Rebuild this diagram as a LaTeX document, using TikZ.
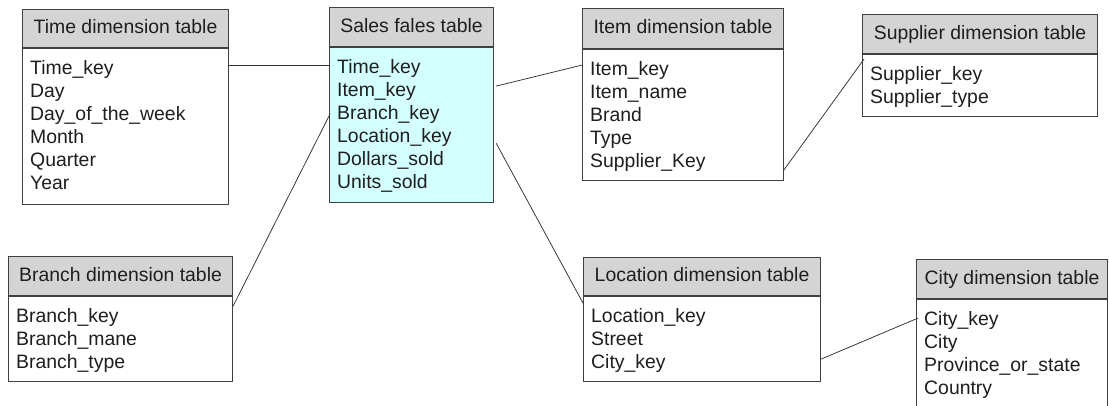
\documentclass[tikz,border=0pt]{standalone}
\usepackage{fontspec}
\setmainfont{Liberation Sans}
\usetikzlibrary{calc}

\definecolor{edge}{HTML}{404040}
\definecolor{hdrfill}{HTML}{D4D4D4}
\definecolor{factfill}{HTML}{D4FFFF}
\definecolor{ink}{HTML}{1E1E1E}
\definecolor{wire}{HTML}{303030}
\newcommand\tablefont{\fontsize{19.4}{23}\selectfont}

% #1 name, #2 left, #3 top, #4 width, #5 header height, #6 body height,
% #7 title, #8 body fill, #9 rows
\newcommand\dimtable[9]{%
  \node[hdr, minimum width=#4, minimum height=#5] (#1H) at (#2,#3) {#7};
  \node[tbody, fill=#8, minimum width=#4, minimum height=#6] (#1B) at (#1H.south west) {};
  \foreach \r [count=\k] in {#9} {
    \pgfmathsetmacro\dy{26+23*(\k-1)}
    \node[row] (#1-\k) at ($(#1B.north west)+(8,\dy)$) {\r};
  }%
}

\begin{document}
\begin{tikzpicture}[x=1pt,y=-1pt,
  hdr/.style={draw=edge, line width=1.1pt, fill=hdrfill, anchor=north west,
    inner sep=0pt, text=ink, font=\tablefont, text height=14pt, text depth=4pt},
  tbody/.style={draw=edge, line width=1.1pt, anchor=north west, inner sep=0pt},
  row/.style={anchor=base west, inner sep=0pt, text=ink, font=\tablefont},
  conn/.style={draw=wire, line width=0.75pt}]

\useasboundingbox (0,0) rectangle (1109,405);
\fill[white] (0,0) rectangle (1109,405);
\clip (0,0) rectangle (1109,405);

\dimtable{time}{22}{9}{206}{38}{156}{Time dimension table}{white}%
  {Time\_key,Day,Day\_of\_the\_week,Month,Quarter,Year}
\dimtable{sales}{329}{7}{164}{39}{155}{Sales fales table}{factfill}%
  {Time\_key,Item\_key,Branch\_key,Location\_key,Dollars\_sold,Units\_sold}
\dimtable{item}{582}{8}{201}{40}{131}{Item dimension table}{white}%
  {Item\_key,Item\_name,Brand,Type,Supplier\_Key}
\dimtable{supplier}{862}{14}{235}{39}{62}{Supplier dimension table}{white}%
  {Supplier\_key,Supplier\_type}
\dimtable{branch}{8}{256}{224}{39}{85}{Branch dimension table}{white}%
  {Branch\_key,Branch\_mane,Branch\_type}
\dimtable{location}{583}{257}{237}{38}{85}{Location dimension table}{white}%
  {Location\_key,Street,City\_key}
\dimtable{city}{916}{259}{191}{39}{150}{City dimension table}{white}%
  {City\_key,City,Province\_or\_state,Country}

% links between the fact table and the dimension tables
\draw[conn] ($(timeB.north east)+(0,17)$) -- ($(salesB.north west)+(0,18)$);
\draw[conn] ($(branchB.north east)+(0,10)$) -- ($(salesB.north west)+(1,67)$);
\draw[conn] ($(salesB.north east)+(2,39)$) -- ($(itemB.north west)+(0,16)$);
\draw[conn] ($(salesB.north east)+(2,96)$) -- ($(locationB.north west)+(0,7)$);
\draw[conn] ($(itemB.north east)+(-1,122)$) -- ($(supplierB.north west)+(2,5)$);
\draw[conn] ($(locationB.north east)+(0,63)$) -- ($(cityB.north west)+(2,19)$);
\end{tikzpicture}
\end{document}
